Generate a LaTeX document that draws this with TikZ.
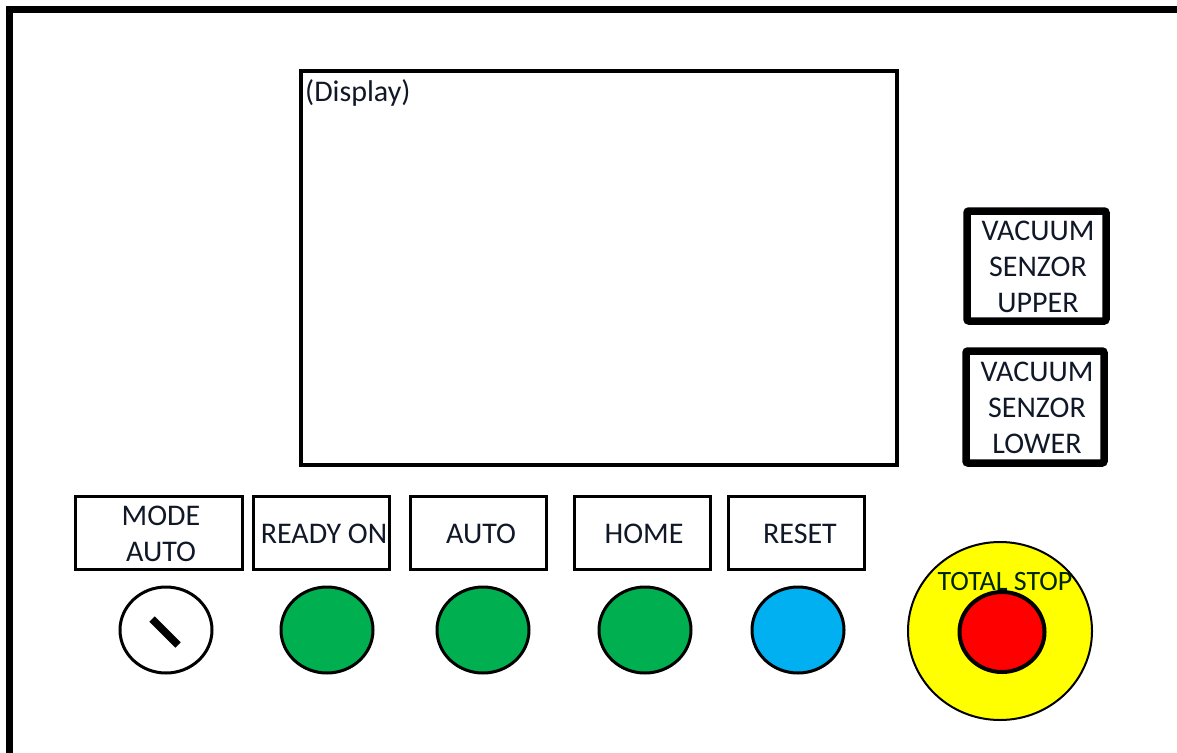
\documentclass[tikz,border=0pt]{standalone}
\usepackage{fontspec}
\setmainfont{Carlito}
\usetikzlibrary{shapes.geometric}
\definecolor{btngreen}{HTML}{00B050}
\definecolor{btnblue}{HTML}{00B0F0}
\definecolor{btnred}{HTML}{FF0000}
\definecolor{btnyellow}{HTML}{FFFF00}
\definecolor{txt}{HTML}{101828}
\tikzset{
  lbl/.style={font=\fontsize{30}{36}\selectfont, text=txt, align=center, inner sep=0pt},
  labelbox/.style={draw, line width=2.6pt, minimum width=136pt, minimum height=73pt, inner sep=0pt},
  sensorbox/.style={draw, line width=7.5pt, rounded corners=2pt, inner sep=0pt},
  lamp/.style={ellipse, draw, line width=3pt, minimum width=92pt, minimum height=86pt, inner sep=0pt},
}
\begin{document}
\begin{tikzpicture}[x=1pt,y=-1pt]
\useasboundingbox (0,0) rectangle (1177,752);
\clip (0,0) rectangle (1177,752);
% outer frame
\coordinate (fbl) at (9,760);
\coordinate (ftl) at (9,10);
\coordinate (ftr) at (1185,10);
\draw[line width=7pt] (fbl) -- (ftl) -- (ftr);
% display
\node[draw, line width=4pt, minimum width=596pt, minimum height=394pt, inner sep=0pt] (display) at (599,268) {};
\node[lbl, anchor=base west] (disptext) at (305,101) {(Display)};
% vacuum sensors
\node[sensorbox, minimum width=139pt, minimum height=110pt] (vup) at (1036.5,266) {};
\node[lbl] (vuptext) at (1038,267) {VACUUM\\SENZOR\\UPPER};
\node[sensorbox, minimum width=138pt, minimum height=112pt] (vlow) at (1035,407) {};
\node[lbl] (vlowtext) at (1037,408) {VACUUM\\SENZOR\\LOWER};
% label boxes
\node[labelbox, minimum width=167pt] (bmode) at (159,533) {};
\node[lbl] at (161,534) {MODE\\AUTO};
\node[labelbox] (bready) at (321.5,533) {};
\node[lbl] at (324,534) {READY ON};
\node[labelbox] (bauto) at (478.5,533) {};
\node[lbl] at (481,534) {AUTO};
\node[labelbox] (bhome) at (642.5,533) {};
\node[lbl] at (644,534) {HOME};
\node[labelbox] (breset) at (796.5,533) {};
\node[lbl] at (800,534) {RESET};
% buttons
\node[lamp, fill=white] (key) at (166,630) {};
\coordinate (k1) at (152,619);
\coordinate (k2) at (178,645);
\draw[line width=7.5pt] (k1) -- (k2);
\node[lamp, fill=btngreen] (lready) at (327,630) {};
\node[lamp, fill=btngreen] (lauto) at (483,630) {};
\node[lamp, fill=btngreen] (lhome) at (645,630) {};
\node[lamp, fill=btnblue] (lreset) at (798,630) {};
% total stop
\node[ellipse, draw, line width=2pt, fill=btnyellow, minimum width=184pt, minimum height=178pt, inner sep=0pt] (estop) at (1000,631) {};
\node[ellipse, draw, line width=4pt, fill=btnred, minimum width=85pt, minimum height=80pt, inner sep=0pt] (estopbtn) at (1002,632) {};
\node[lbl, font=\fontsize{28}{30}\selectfont, text=black!85!green] (estoptext) at (1005,582) {TOTAL STOP};
\end{tikzpicture}
\end{document}
